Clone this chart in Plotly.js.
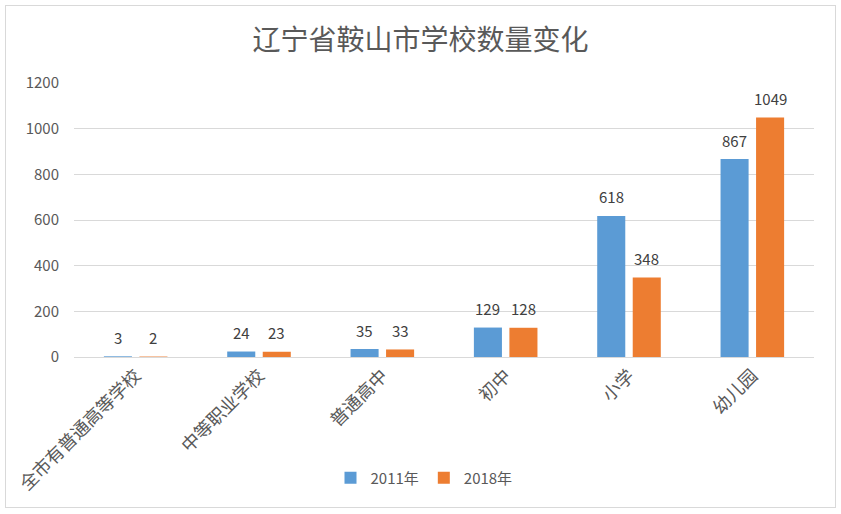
<!DOCTYPE html>
<html>
<head>
<meta charset="utf-8">
<script src="https://cdn.plot.ly/plotly-3.0.1.min.js"></script>
<style>
  html, body { margin: 0; padding: 0; background: #fff; }
  #wrap { position: relative; width: 841px; height: 514px; }
  #chart { width: 841px; height: 514px; }
  #frame { position: absolute; left: 5px; top: 5px; width: 829px; height: 501px;
           border: 1.5px solid #d9d9d9; pointer-events: none; }
</style>
</head>
<body>
<div id="wrap">
  <div id="chart"></div>
  <div id="frame"></div>
</div>
<script>
const categories = ["全市有普通高等学校", "中等职业学校", "普通高中", "初中", "小学", "幼儿园"];
const series2011 = [3, 24, 35, 129, 618, 867];
const series2018 = [2, 23, 33, 128, 348, 1049];
const seriesNames = ["2011年", "2018年"];
const colors = ["#5b9bd5", "#ed7d31"];
const yTicks = [0, 200, 400, 600, 800, 1000, 1200];

const FONT = '"Noto Sans CJK SC", "Noto Sans", sans-serif';

const traces = [series2011, series2018].map((vals, i) => ({
  type: 'bar',
  name: seriesNames[i],
  x: categories,
  y: vals,
  marker: { color: colors[i] },
  hoverinfo: 'none'
}));

const annotations = [];
[series2011, series2018].forEach((vals, i) => {
  vals.forEach((v, j) => {
    annotations.push({
      x: categories[j], y: v, xref: 'x', yref: 'y',
      text: String(v), showarrow: false,
      xshift: i === 0 ? -17.75 : 17.75,
      yshift: 19, yanchor: 'middle',
      font: { family: FONT, size: 15, color: '#404040' }
    });
  });
});

const layout = {
  width: 841, height: 514,
  margin: { l: 74, r: 27, t: 83, b: 157 },
  paper_bgcolor: '#ffffff', plot_bgcolor: '#ffffff',
  font: { family: FONT, color: '#595959', size: 15 },
  title: {
    text: '辽宁省鞍山市学校数量变化',
    font: { family: FONT, size: 28, color: '#595959' },
    x: 0.5, xanchor: 'center', y: 1 - 40 / 514, yanchor: 'middle', yref: 'container'
  },
  barmode: 'group',
  bargap: 0.424,
  bargroupgap: 0.21,
  xaxis: {
    type: 'category',
    tickangle: -45,
    tickfont: { family: FONT, size: 18, color: '#595959' },
    showline: true, linecolor: '#d9d9d9', linewidth: 1,
    ticks: '', showgrid: false, zeroline: false
  },
  yaxis: {
    range: [0, 1200],
    tickvals: yTicks,
    ticktext: yTicks.map(String),
    tickfont: { family: FONT, size: 15, color: '#595959' },
    showgrid: true, gridcolor: '#d9d9d9', gridwidth: 1,
    zeroline: false, showline: false, ticks: '',
    ticklabelstandoff: 14
  },
  legend: {
    orientation: 'h',
    x: (424 - 74) / 740, xanchor: 'center',
    y: (357 - 478) / 274, yanchor: 'middle',
    font: { family: FONT, size: 15, color: '#595959' },
    itemwidth: 30
  },
  annotations: annotations,
  showlegend: true
};

Plotly.newPlot('chart', traces, layout, { staticPlot: true, displayModeBar: false });
</script>
</body>
</html>
